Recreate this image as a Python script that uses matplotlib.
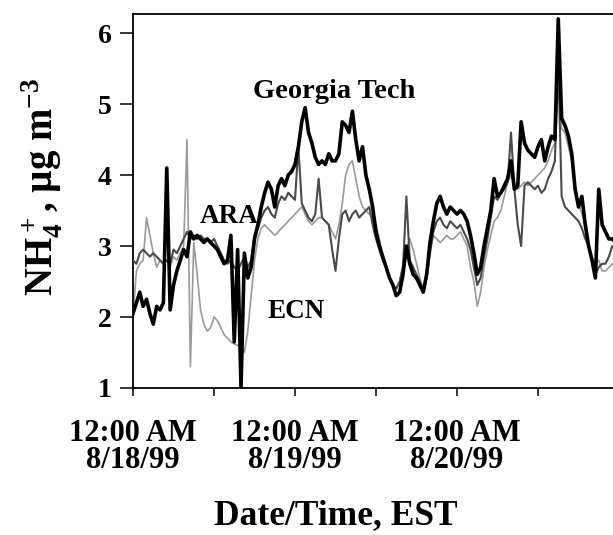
import matplotlib
matplotlib.use("Agg")
import matplotlib.pyplot as plt
import numpy as np

# Hours after 12:00 AM 8/18/99 (EST), sampled every 30 minutes
hours = np.arange(0, 72.5, 0.5)

georgia_tech = [
    2.05, 2.2, 2.35, 2.15, 2.25, 2.05, 1.9, 2.15, 2.1, 2.2,      # 0-4.5
    4.1, 2.1, 2.45, 2.65, 2.8, 2.95, 2.85, 3.2, 3.1, 3.15,       # 5-9.5
    3.1, 3.05, 3.1, 3.05, 3.0, 2.95, 2.85, 2.75, 2.8, 3.15,      # 10-14.5
    1.65, 2.95, 1.0, 2.9, 2.55, 2.7, 3.1, 3.3, 3.55, 3.75,       # 15-19.5
    3.9, 3.8, 3.55, 3.85, 3.95, 3.85, 4.0, 4.05, 4.15, 4.4,      # 20-24.5
    4.75, 4.95, 4.6, 4.45, 4.25, 4.15, 4.2, 4.15, 4.3, 4.2,      # 25-29.5
    4.2, 4.3, 4.75, 4.7, 4.6, 4.9, 4.5, 4.2, 4.4, 4.0,           # 30-34.5
    3.8, 3.55, 3.2, 3.0, 2.85, 2.7, 2.55, 2.45, 2.3, 2.35,       # 35-39.5
    2.6, 3.0, 2.75, 2.6, 2.55, 2.45, 2.35, 2.6, 3.05, 3.35,      # 40-44.5
    3.6, 3.7, 3.55, 3.45, 3.55, 3.5, 3.45, 3.5, 3.45, 3.35,      # 45-49.5
    3.15, 2.9, 2.6, 2.7, 3.0, 3.25, 3.5, 3.95, 3.7, 3.75,        # 50-54.5
    3.85, 3.95, 4.2, 3.8, 3.85, 4.75, 4.45, 4.35, 4.3, 4.25,     # 55-59.5
    4.4, 4.5, 4.2, 4.4, 4.55, 4.5, 6.2, 4.8, 4.7, 4.55,          # 60-64.5
    4.3, 3.8, 3.55, 3.7, 3.3, 3.0, 2.8, 2.55, 3.8, 3.3,          # 65-69.5
    3.2, 3.1, 3.1, 3.05, 3.0,                                    # 70-72
]

ara = [
    2.8, 2.75, 2.9, 2.95, 2.9, 2.85, 2.9, 2.85, 2.8, 2.75,
    2.8, 2.75, 2.95, 2.9, 3.0, 3.1, 3.2, 3.1, 3.15, 3.1,
    3.15, 3.1, 3.1, 3.05, 3.1, 3.0, 2.9, 2.8, 2.75, 2.8,
    2.7, 2.65, 2.75, 2.85, 2.7, 2.8, 3.15, 3.25, 3.4, 3.5,
    3.55, 3.45, 3.4, 3.6, 3.7, 3.65, 3.75, 3.7, 3.65, 4.4,
    3.6, 3.5, 3.4, 3.35, 3.45, 3.95, 3.4, 3.35, 3.3, 2.95,
    2.65, 3.1, 3.45, 3.5, 3.35, 3.45, 3.5, 3.4, 3.45, 3.5,
    3.55, 3.3, 3.1, 2.95, 2.8, 2.7, 2.55, 2.45, 2.4, 2.5,
    2.7, 3.7, 2.8, 2.7, 2.6, 2.5, 2.4, 2.55, 2.9, 3.2,
    3.35, 3.4, 3.3, 3.25, 3.35, 3.3, 3.25, 3.3, 3.2, 3.1,
    2.95, 2.7, 2.45, 2.55, 2.85, 3.1, 3.4, 3.7, 3.65, 3.75,
    3.8, 3.9, 4.6, 3.8, 3.3, 3.0, 3.85, 3.9, 3.85, 3.8,
    3.85, 3.75, 3.8, 3.95, 4.05, 4.2, 5.6, 3.7, 3.55, 3.5,
    3.45, 3.4, 3.35, 3.25, 3.1, 3.0, 2.8, 2.6, 2.7, 2.75,
    2.75, 2.85, 3.0, 2.95, 2.9,
]

ecn = [
    2.0, 2.65, 2.75, 2.8, 3.4, 3.15, 2.9, 2.7, 2.8, 2.75,
    2.8, 2.7, 2.85, 2.8, 2.9, 3.0, 4.5, 1.3, 3.05, 2.6,
    2.1, 1.9, 1.8, 1.85, 2.0, 1.95, 1.85, 1.75, 1.7, 1.65,
    1.62, 1.6, 1.6, 1.5, 1.8, 2.3, 2.8, 3.1, 3.25, 3.3,
    3.25, 3.2, 3.15, 3.2, 3.25, 3.3, 3.35, 3.4, 3.45, 3.5,
    3.55, 3.45, 3.35, 3.3, 3.35, 3.4, 3.4, 3.35, 3.3, 3.2,
    3.1, 3.3, 3.6, 4.0, 4.15, 4.2, 3.95, 3.7, 3.55, 3.5,
    3.45, 3.4, 3.3, 3.1, 2.85, 2.7, 2.55, 2.45, 2.4, 2.5,
    2.75, 2.95, 3.1, 2.95, 2.75, 2.55, 2.35, 2.55, 2.95, 3.15,
    3.1, 3.05, 3.1, 3.15, 3.1, 3.1, 3.15, 3.2, 3.1, 3.0,
    2.7, 2.5, 2.15, 2.35, 2.7, 2.95, 3.15, 3.35, 3.4, 3.5,
    3.7, 3.9, 4.0, 3.85, 3.8, 3.85, 3.9, 3.85, 3.9, 3.95,
    4.0, 4.05, 4.1, 4.2, 4.35, 4.45, 5.5, 4.65, 4.6, 4.4,
    4.2, 3.8, 3.6, 3.45, 3.3, 3.0, 2.85, 2.75, 2.8, 2.65,
    2.65, 2.7, 2.75, 2.7, 2.7,
]

tick_hours = [0, 12, 24, 36, 48, 60, 72]
tick_labels = ["12:00 AM\n8/18/99", "", "12:00 AM\n8/19/99", "",
               "12:00 AM\n8/20/99", "", ""]
y_ticks = [1, 2, 3, 4, 5, 6]

plt.rcParams["font.family"] = ["Liberation Serif", "DejaVu Serif"]
plt.rcParams["font.weight"] = "bold"
plt.rcParams["mathtext.fontset"] = "custom"
plt.rcParams["mathtext.rm"] = "Liberation Serif:bold"
plt.rcParams["mathtext.it"] = "Liberation Serif:bold"
plt.rcParams["mathtext.bf"] = "Liberation Serif:bold"

fig = plt.figure(figsize=(6.13, 5.35), dpi=100)
# the time axis runs on past the right edge of the figure
ax = fig.add_axes([0.2170, 0.2748, 0.7928, 0.6991])

ax.plot(hours, ecn, color="#9a9a9a", lw=1.2, zorder=2)
ax.plot(hours, ara, color="#4a4a4a", lw=1.5, zorder=3)
ax.plot(hours, georgia_tech, color="black", lw=2.6, zorder=4)

ax.set_xlim(0, 72)
ax.set_ylim(1, 6.27)
ax.set_xticks(tick_hours)
ax.set_xticklabels(tick_labels, fontsize=22, fontweight="bold", linespacing=0.95)
ax.set_yticks(y_ticks)
ax.set_yticklabels([str(v) for v in y_ticks], fontsize=20, fontweight="bold")
ax.tick_params(axis="x", direction="out", length=6, width=1.1, pad=16)
ax.tick_params(axis="y", direction="out", length=9.5, width=1.1, pad=6)
for side in ("left", "bottom", "top", "right"):
    ax.spines[side].set_linewidth(1.3)

ax.text(29.8, 5.08, "Georgia Tech", fontsize=20.5, fontweight="bold",
        ha="center", va="baseline", zorder=5)
ax.text(14.2, 3.32, "ARA", fontsize=19.5, fontweight="bold",
        ha="center", va="baseline", zorder=5)
ax.text(24.1, 1.99, "ECN", fontsize=19.5, fontweight="bold",
        ha="center", va="baseline", zorder=5)

fig.text(42 / 613, 1 - 187 / 535, r"NH$_4^+$, µg m$^{-3}$", rotation=90,
         fontsize=28, fontweight="bold", ha="center", va="center")
fig.text(336 / 613, 1 - 516 / 535, "Date/Time, EST", fontsize=25.5,
         fontweight="bold", ha="center", va="center")

fig.savefig("out.png", dpi=100)
